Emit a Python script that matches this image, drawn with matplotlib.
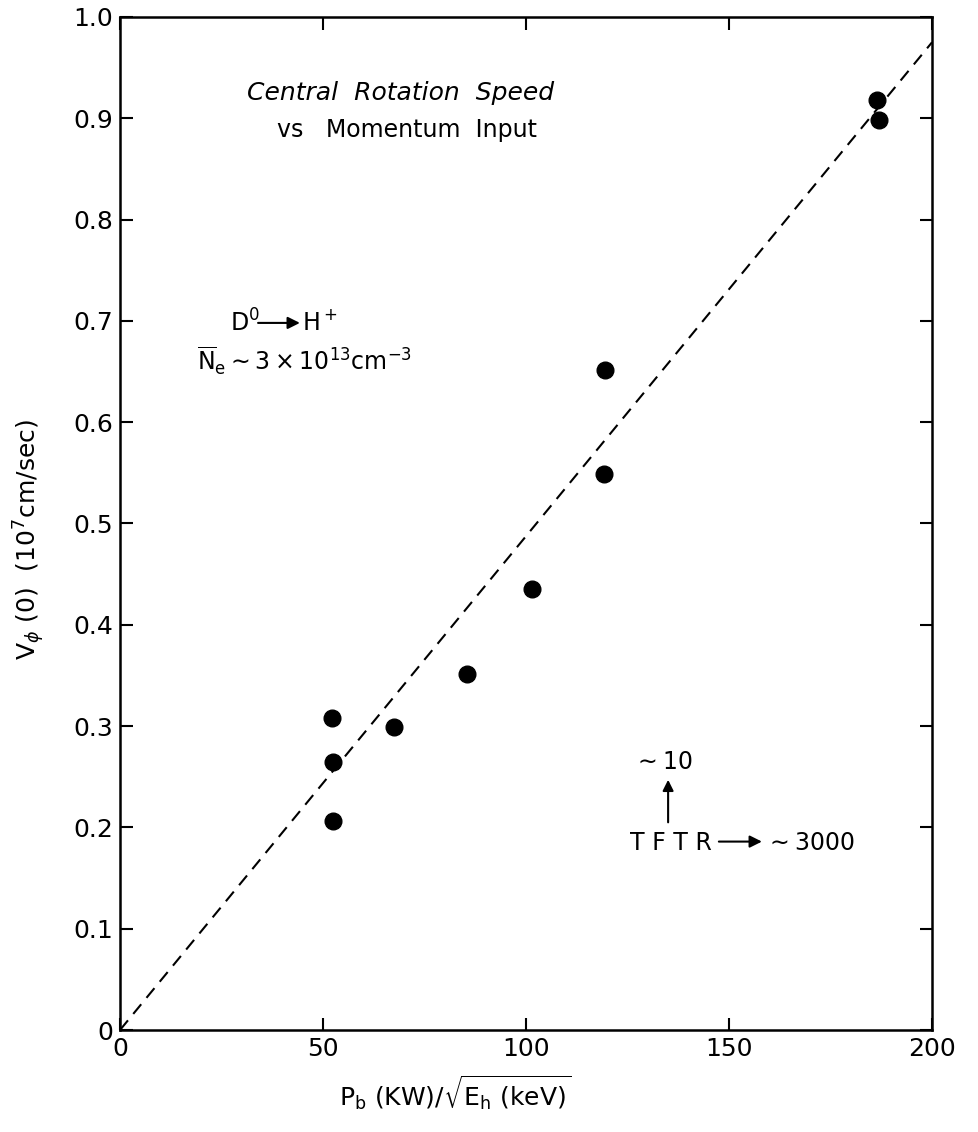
import matplotlib
matplotlib.use('Agg')
import matplotlib.pyplot as plt

# Data
beam_momentum = [52.2, 52.5, 52.5, 67.5, 85.5, 101.5, 119.2, 119.5, 186.5, 187.0]
rotation_speed = [0.308, 0.265, 0.206, 0.299, 0.351, 0.435, 0.549, 0.652, 0.918, 0.898]

# Dashed fit line through the origin
fit_x = [0, 200]
fit_y = [0, 0.975]

x_ticks = [0, 50, 100, 150, 200]
x_tick_labels = ['0', '50', '100', '150', '200']
y_ticks = [0, 0.1, 0.2, 0.3, 0.4, 0.5, 0.6, 0.7, 0.8, 0.9, 1.0]
y_tick_labels = ['0', '0.1', '0.2', '0.3', '0.4', '0.5', '0.6', '0.7', '0.8', '0.9', '1.0']

plt.rcParams['font.family'] = ['DejaVu Sans']
plt.rcParams['mathtext.fontset'] = 'dejavusans'

fig = plt.figure(figsize=(9.79, 11.32), dpi=100)
ax = fig.add_axes([0.1226, 0.0901, 0.8294, 0.8949])

ax.plot(fit_x, fit_y, color='black', linestyle=(0, (6, 4)), linewidth=1.5)
ax.plot(beam_momentum, rotation_speed, 'o', color='black', markersize=12)

ax.set_xlim(0, 200)
ax.set_ylim(0, 1.0)
ax.set_xticks(x_ticks)
ax.set_xticklabels(x_tick_labels)
ax.set_yticks(y_ticks)
ax.set_yticklabels(y_tick_labels)
ax.tick_params(direction='in', length=9, width=1.5, labelsize=18, pad=5,
               top=True, right=True)
for spine in ax.spines.values():
    spine.set_linewidth(1.8)

ax.set_xlabel(r'P$_\mathrm{b}$ (KW)/$\sqrt{\mathrm{E_h\ (keV)}}$', fontsize=18)
ax.xaxis.set_label_coords(0.413, -0.043)
ax.set_ylabel(r'V$_\phi$ (0)  (10$^7$cm/sec)', fontsize=18)
ax.yaxis.set_label_coords(-0.09, 0.484)

# Title block inside the axes
ax.text(69, 0.925, 'Central  Rotation  Speed', fontsize=18, style='italic',
        ha='center', va='center')
ax.text(70.7, 0.888, 'vs   Momentum  Input', fontsize=17,
        ha='center', va='center')

# Beam / plasma species annotation
ax.text(27.1, 0.698, r'D$^0$', fontsize=17, ha='left', va='center')
ax.annotate('', xy=(44.3, 0.698), xytext=(34.0, 0.698),
            arrowprops=dict(arrowstyle='-|>', color='black', lw=1.5,
                            mutation_scale=18, shrinkA=0, shrinkB=0))
ax.text(44.8, 0.698, r'H$^+$', fontsize=17, ha='left', va='center')
ax.text(19.0, 0.66, r'$\overline{\mathrm{N}}_\mathrm{e}\sim3\times10^{13}$cm$^{-3}$',
        fontsize=17, ha='left', va='center')

# TFTR comparison
ax.text(126.4, 0.265, r'$\sim$10', fontsize=17, ha='left', va='center')
ax.annotate('', xy=(135.0, 0.247), xytext=(135.0, 0.205),
            arrowprops=dict(arrowstyle='-|>', color='black', lw=1.5,
                            mutation_scale=16, shrinkA=0, shrinkB=0))
ax.text(125.6, 0.185, 'T F T R', fontsize=17, ha='left', va='center')
ax.annotate('', xy=(158.1, 0.186), xytext=(147.5, 0.186),
            arrowprops=dict(arrowstyle='-|>', color='black', lw=1.5,
                            mutation_scale=18, shrinkA=0, shrinkB=0))
ax.text(158.9, 0.185, r'$\sim$3000', fontsize=17, ha='left', va='center')

fig.savefig('out.png', dpi=100)
